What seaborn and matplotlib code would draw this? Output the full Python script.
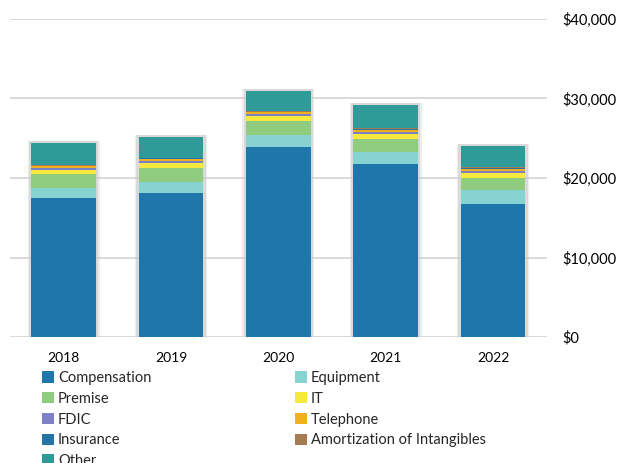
import matplotlib
matplotlib.use("Agg")
import matplotlib.pyplot as plt
import seaborn as sns
import numpy as np
import pandas as pd
from matplotlib.patches import Patch
from matplotlib.ticker import FuncFormatter

years = ["2018", "2019", "2020", "2021", "2022"]
compensation = [17500, 18150, 23900, 21800, 16700]
equipment = [1250, 1330, 1500, 1500, 1800]
premise = [1750, 1790, 1750, 1650, 1550]
it = [500, 625, 600, 600, 625]
fdic = [200, 200, 250, 250, 250]
telephone = [250, 250, 250, 200, 200]
insurance = [100, 150, 100, 200, 150]
amortization = [50, 50, 50, 50, 50]
other = [2800, 2625, 2500, 2900, 2700]

series_names = ["Compensation", "Equipment", "Premise", "IT", "FDIC", "Telephone",
                "Insurance", "Amortization of Intangibles", "Other"]
series_values = [compensation, equipment, premise, it, fdic, telephone,
                 insurance, amortization, other]
colors = ["#1E76AA", "#86D3D2", "#8FCC7E", "#F6E83C", "#7E80C6", "#F2B01E",
          "#2474A6", "#A57C52", "#2F9B99"]

sns.set_style("white")
plt.rcParams['font.family'] = ['Lato', 'DejaVu Sans']

fig = plt.figure(figsize=(6.21, 4.63), dpi=100)
ax = fig.add_axes([10/621, 126/463, (546.7-10)/621, (337-19)/463])

df = pd.DataFrame({"year": years})
totals = np.sum(np.array(series_values), axis=0)
df["total"] = totals

# soft shadow behind bars
for w, a in [(0.67, 0.35), (0.645, 0.6)]:
    n0 = len(ax.patches)
    sns.barplot(data=df, x="year", y="total", color="#cccccc", width=w,
                ax=ax, zorder=1, saturation=1, linewidth=0)
    for p in ax.patches[n0:]:
        p.set_alpha(a)
        p.set_height(p.get_height() + 250)

bottom = np.zeros(len(years))
for name, vals, col in zip(series_names, series_values, colors):
    d = pd.DataFrame({"year": years, "v": vals})
    sns.barplot(data=d, x="year", y="v", color=col, width=0.6, bottom=bottom,
                ax=ax, zorder=2, saturation=1, linewidth=0)
    bottom = bottom + np.array(vals)

ax.set_xlim(-0.5, 4.5)
ax.set_ylim(0, 40000)
ax.set_yticks([0, 10000, 20000, 30000, 40000])
ax.yaxis.set_major_formatter(FuncFormatter(lambda v, p: f"${v:,.0f}"))
ax.yaxis.tick_right()
ax.grid(axis="y", color="#d9d9d9", linewidth=1.4, zorder=0)
ax.set_axisbelow(True)
for s in ax.spines.values():
    s.set_visible(False)
ax.tick_params(axis="y", length=0, pad=11.5, labelsize=10.5, labelcolor="black")
ax.tick_params(axis="x", length=0, pad=11, labelsize=10, labelcolor="black")
ax.set_xlabel("")
ax.set_ylabel("")

handles = [Patch(facecolor=c, edgecolor="none") for c in colors]
idx1 = [0, 2, 4, 6, 8]
idx2 = [1, 3, 5, 7]
kw = dict(frameon=False, fontsize=10.5, handlelength=0.8, handleheight=0.8,
          handletextpad=0.3, labelspacing=0.465, borderaxespad=0, borderpad=0,
          loc="upper left")
leg1 = fig.legend([handles[i] for i in idx1], [series_names[i] for i in idx1],
                  bbox_to_anchor=(42/621, 1 - 371/463), **kw)
leg2 = fig.legend([handles[i] for i in idx2], [series_names[i] for i in idx2],
                  bbox_to_anchor=(295/621, 1 - 371/463), **kw)

fig.savefig("out.png", dpi=100)
